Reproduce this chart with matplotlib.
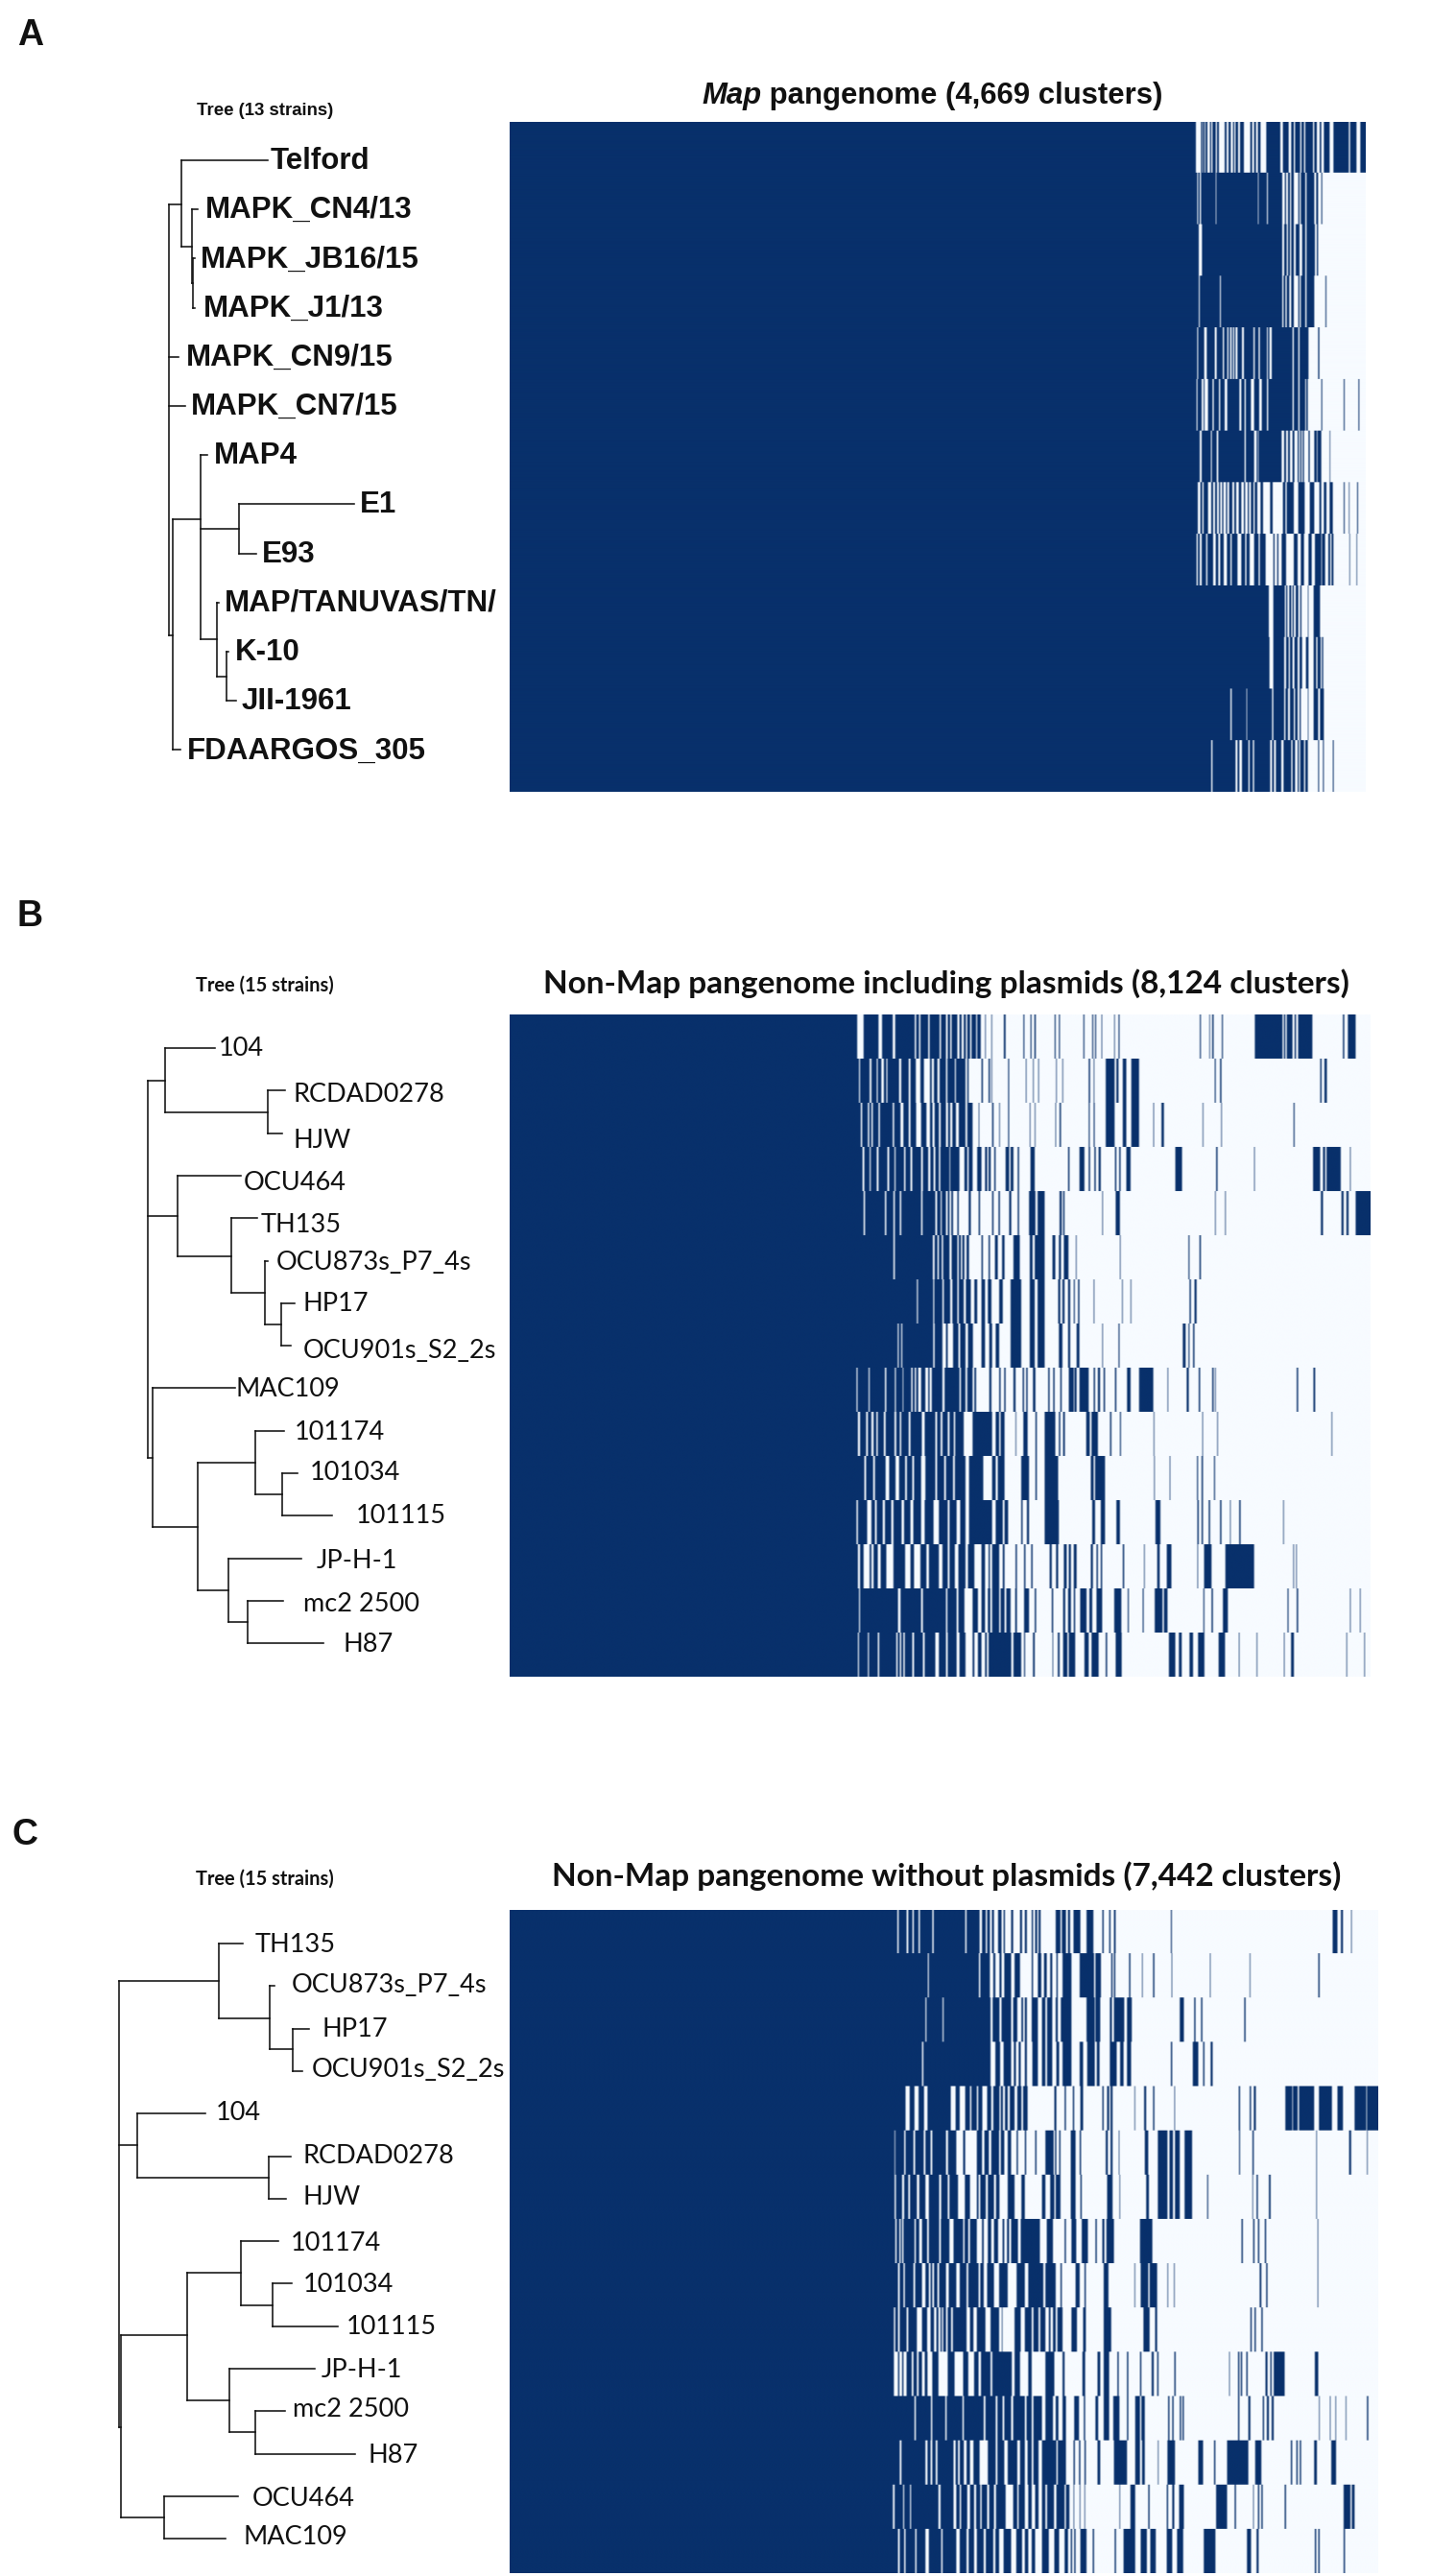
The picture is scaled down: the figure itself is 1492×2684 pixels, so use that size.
import matplotlib
matplotlib.use("Agg")
import matplotlib.pyplot as plt
from matplotlib.colors import LinearSegmentedColormap
import numpy as np

# presence/absence bins: every row starts present after the core block, each
# value flips the state (first value = start of an absent run)
A_CLUSTERS = 4669
A_BINS = 2676
A_CORE = 2007
A_ROWS = [
    [138,154,158,160,165,168,174,182,186,190,200,204,210,228,234,240,247,254,258,262,270,276,288,308,314,320,326,332,340,358,402,410,428,436,444,448,464,468,476,480,504,508,516,525,530,538,556,568,616,620,640,652],
    [142,145,150,154,200,202,332,334,360,363,408,416,420,426,432,436,444,458,462,466,480,484,508,514,520,530,533],
    [147,157,408,414,422,426,432,436,444,450,462,470,480,484,510,516,520],
    [147,150,213,216,408,412,418,422,430,436,444,458,462,466,480,484,508,543,546],
    [142,145,164,172,197,203,222,226,236,240,245,250,254,258,262,268,282,288,318,322,334,338,360,363,368,375,440,444,458,462,490,520,524],
    [140,143,156,162,165,176,190,194,210,214,228,236,274,280,290,294,310,320,336,344,360,364,440,444,458,462,480,483,488,530,533,600,603,646,649],
    [150,156,185,188,203,208,290,294,320,328,332,334,406,414,420,426,432,440,446,456,460,464,468,472,476,490,494,508,516,518,530,556,558],
    [144,152,158,162,176,186,192,198,204,210,214,220,224,232,236,242,252,258,264,272,280,288,292,300,304,310,318,322,330,340,348,370,378,410,418,422,444,458,478,494,508,524,530,538,546,556,566,600,603,616,618,642,645],
    [140,144,150,156,170,174,192,200,208,214,225,235,246,250,268,280,292,296,306,320,334,338,356,380,384,392,396,406,420,444,456,466,476,490,500,510,530,532,542,552,558,562,568,618,620,640,642],
    [366,380,416,420,424,430,436,440,444,450,458,464,468,488,490,506,526],
    [368,380,414,420,428,432,440,446,456,462,470,482,490,506,514,518,528,532,536],
    [246,250,296,298,376,380,414,418,426,432,444,448,456,462,466,488,490,506,520,526,538],
    [186,190,262,268,274,282,302,306,316,320,370,376,382,388,405,412,436,440,448,456,460,464,476,480,488,520,523,535,538,566,569],
]

B_CLUSTERS = 8124
B_BINS = 2425
B_CORE = 889
B_ROWS = [
    [90,108,150,160,190,197,252,256,264,268,290,294,322,326,340,345,352,356,372,378,384,390,396,400,408,412,425,428,438,450,452,468,470,503,508,558,561,578,581,589,593,646,649,658,661,727,730,752,755,760,763,778,780,814,816,826,829,1055,1058,1082,1084,1090,1094,1117,1120,1210,1288,1292,1296,1300,1316,1322,1326,1332,1372,1458,1462,1472,1494],
    [95,98,125,130,145,148,158,165,172,175,208,214,235,240,255,268,278,295,300,306,316,322,340,344,365,368,395,400,404,440,444,460,464,468,470,515,518,565,567,585,587,600,602,650,652,668,670,742,746,756,758,790,815,820,826,838,848,862,884,1097,1100,1112,1116,1394,1398,1406,1413],
    [100,104,120,124,130,134,150,154,190,194,212,220,235,240,256,270,285,295,302,308,320,325,340,346,352,358,368,376,395,400,415,432,434,470,474,490,492,515,518,576,578,590,592,648,650,660,664,742,745,756,759,790,815,838,848,862,884,924,926,947,954,1063,1065,1115,1117,1319,1322],
    [105,110,125,128,145,150,175,180,195,198,222,226,240,245,270,275,290,296,305,310,320,324,350,352,378,392,400,404,415,428,440,450,456,460,466,476,480,508,518,522,530,542,546,578,590,684,688,716,730,742,746,758,762,770,776,816,820,828,832,848,860,986,1005,1101,1105,1208,1210,1374,1394,1402,1408,1412,1452,1478,1480],
    [108,112,168,172,192,196,210,214,270,274,310,315,325,328,340,345,350,355,360,372,376,404,410,432,436,470,474,488,492,518,524,542,546,574,592,598,618,660,666,670,674,780,782,818,830,1098,1100,1126,1128,1396,1402,1454,1460,1468,1474,1494],
    [192,196,303,308,316,320,328,332,350,356,372,376,382,386,392,398,405,440,444,460,464,478,486,498,505,530,548,576,584,590,618,640,648,658,664,672,685,706,708,830,832,1023,1026,1054,1058],
    [258,261,304,307,330,334,352,358,372,376,390,396,410,420,428,440,450,458,468,490,500,522,552,576,590,598,618,656,662,668,674,684,690,700,703,712,716,756,758,836,838,860,862,1026,1030,1040,1046],
    [204,207,214,217,304,308,330,340,345,360,375,380,395,402,416,440,450,462,470,480,490,522,552,576,590,598,618,658,668,684,690,708,716,780,782,826,829,1007,1015,1023,1026,1036,1040],
    [88,91,122,125,168,172,196,199,218,220,242,246,252,256,262,270,282,290,294,300,330,336,378,382,395,400,415,420,425,462,468,490,494,504,508,530,536,556,560,566,570,585,592,628,632,642,646,662,666,686,700,702,708,716,742,756,760,768,774,784,788,816,820,850,860,884,924,964,966,1018,1024,1052,1056,1090,1094,1098,1100,1328,1332,1375,1380],
    [92,98,115,120,130,136,144,148,165,170,195,200,210,214,235,240,272,280,310,315,325,330,345,350,362,366,390,415,470,480,490,494,505,536,538,558,570,592,596,618,648,658,662,670,675,735,745,750,768,802,806,830,833,925,927,1062,1064,1104,1106,1426,1428],
    [110,115,135,140,170,180,198,208,225,230,245,250,270,282,310,315,335,340,360,365,395,405,445,470,480,486,505,552,574,592,596,618,656,748,756,760,788,926,928,970,972,1047,1050,1060,1064,1095,1098],
    [88,92,118,130,140,145,162,168,186,192,215,222,240,248,270,280,305,320,345,350,370,380,395,405,470,480,500,505,515,552,556,568,574,618,658,752,760,776,788,820,830,930,944,1048,1052,1060,1064,1080,1084,1112,1116,1140,1142,1166,1170,1290,1292],
    [92,98,108,125,130,136,148,156,172,192,225,240,250,268,285,292,320,330,345,350,365,375,395,402,420,440,450,460,464,470,490,500,505,536,540,560,564,580,584,632,638,650,656,672,680,686,692,700,708,748,754,764,768,776,780,838,842,898,900,935,942,962,975,1048,1050,1067,1088,1127,1208,1318,1320,1326,1328],
    [95,98,205,212,270,275,340,344,370,375,392,415,430,440,450,458,465,470,490,494,505,510,522,535,540,560,574,590,594,638,642,670,676,684,692,700,704,718,736,744,752,764,780,814,834,852,855,894,897,928,950,954,964,1065,1068,1088,1092,1120,1134,1302,1305,1328,1332,1478,1480,1506,1508],
    [92,95,120,123,148,152,200,204,210,214,220,224,245,250,275,280,310,320,340,345,370,378,395,415,420,430,440,450,455,460,524,530,552,560,563,585,590,640,642,655,660,670,682,686,704,730,742,750,770,790,794,818,835,968,986,996,1004,1026,1036,1050,1068,1108,1126,1165,1167,1215,1217,1292,1294,1312,1320,1468,1470,1518,1520],
]

C_CLUSTERS = 7442
C_BINS = 2534
C_CORE = 1033
C_ROWS = [
    [98,102,125,130,142,146,160,164,200,204,296,300,338,345,356,360,368,374,380,392,402,408,412,430,436,456,462,470,476,490,494,500,506,510,516,560,574,578,590,596,602,612,632,650,670,696,700,716,720,730,735,896,899,1368,1382,1392,1398,1422,1424],
    [187,190,336,340,368,378,384,396,402,410,430,440,456,490,494,508,518,526,534,544,550,562,566,580,606,630,672,676,692,722,726,730,734,774,778,812,814,844,848,898,900,1010,1012,1126,1128,1326,1330],
    [180,183,230,233,370,376,396,402,430,436,448,460,465,470,476,490,508,520,530,535,550,560,566,575,606,650,674,676,690,718,724,730,760,768,782,922,934,964,968,984,988,1110,1114],
    [170,174,370,384,398,408,430,438,444,452,458,470,476,492,508,520,530,535,550,562,570,580,606,630,640,652,674,680,688,718,738,748,758,768,780,896,900,960,976,990,994,1012,1018],
    [122,134,148,160,176,186,254,268,280,296,310,314,330,334,346,360,372,378,396,400,406,412,420,426,440,448,460,465,478,556,562,586,590,610,614,632,640,696,700,710,716,720,726,790,792,818,824,844,848,906,908,1094,1098,1126,1130,1138,1144,1230,1250,1252,1266,1270,1314,1328,1366,1382,1398,1432,1466,1468],
    [90,92,118,122,145,150,175,180,195,200,240,246,270,290,296,330,345,352,365,372,395,400,410,420,430,446,450,470,474,500,504,530,554,558,562,570,574,604,618,630,634,706,712,720,726,744,746,820,830,858,886,892,902,908,922,936,958,1095,1098,1134,1138,1320,1322,1416,1422,1468,1470],
    [90,94,112,118,130,135,155,162,180,190,220,226,245,250,275,295,310,330,335,340,356,362,380,386,396,420,440,460,470,520,530,544,556,560,574,604,618,632,636,710,726,746,748,824,832,858,886,892,902,908,922,936,958,1002,1005,1134,1136,1146,1150,1182,1187,1320,1322],
    [92,96,104,108,112,116,148,152,162,170,185,190,220,225,250,262,290,294,305,310,330,345,350,362,372,380,392,405,410,418,424,430,450,458,514,534,552,586,590,606,620,636,654,676,680,696,702,708,730,806,842,1102,1106,1136,1140,1150,1154,1170,1174,1324,1326],
    [100,105,116,120,145,150,170,180,190,195,200,205,215,220,240,248,270,280,300,305,335,340,350,360,380,395,420,446,470,480,524,530,560,574,578,618,630,644,648,700,714,790,792,808,830,834,856,886,888,905,907,1155,1160,1174,1178,1324,1326],
    [88,92,100,105,125,130,155,170,185,195,205,212,218,224,228,232,240,245,255,260,300,310,320,330,355,370,395,403,405,440,458,470,490,495,510,515,530,540,545,552,560,565,580,606,622,640,648,700,722,816,834,850,856,1128,1132,1140,1144,1160,1164],
    [88,100,104,112,116,125,140,145,155,160,170,178,186,200,218,245,265,290,305,322,335,342,370,375,432,440,456,480,490,530,556,580,586,638,646,682,690,700,716,740,744,768,772,806,810,840,846,856,860,906,910,1066,1068,1092,1096,1100,1104,1116,1120,1172,1178,1186,1190,1196,1228,1316,1326],
    [148,152,196,200,238,242,288,292,350,355,385,390,405,410,430,436,470,475,490,495,520,530,552,560,568,580,590,614,628,642,646,676,684,700,716,728,746,768,772,792,806,810,820,888,892,900,904,922,926,930,934,1092,1096,1122,1128,1164,1168,1176,1182,1190,1196,1328,1330,1360,1362,1376,1378,1406,1408,1468,1472],
    [105,110,180,186,195,200,210,215,262,268,275,280,292,300,310,320,338,362,385,390,410,420,448,456,470,478,490,495,510,520,562,566,590,612,616,628,632,644,648,682,690,730,768,792,806,812,820,858,860,886,908,976,990,1022,1026,1060,1122,1142,1160,1246,1250,1262,1266,1272,1276,1314,1322,1364,1378],
    [85,90,115,118,135,138,218,224,262,270,280,284,302,310,322,328,340,344,360,366,380,386,414,436,448,452,470,480,490,500,510,520,530,535,555,562,586,590,600,612,614,630,632,644,646,746,748,778,792,830,834,884,888,900,906,920,934,1028,1060,1082,1086,1136,1138,1150,1154,1160,1164,1228,1232,1400,1420,1424,1432],
    [100,105,118,122,150,154,180,190,226,230,270,280,300,306,322,330,350,356,378,384,395,408,430,445,462,470,480,490,500,520,540,556,570,586,596,604,608,614,618,632,650,668,672,732,736,758,792,808,826,836,852,884,900,914,932,992,1026,1118,1130,1146,1152,1316,1320,1326,1330,1400,1404],
]

A_NAMES = ["Telford", "MAPK_CN4/13", "MAPK_JB16/15", "MAPK_J1/13", "MAPK_CN9/15", "MAPK_CN7/15", "MAP4", "E1", "E93", "MAP/TANUVAS/TN/", "K-10", "JII-1961", "FDAARGOS_305"]
B_NAMES = ["104", "RCDAD0278", "HJW", "OCU464", "TH135", "OCU873s_P7_4s", "HP17", "OCU901s_S2_2s", "MAC109", "101174", "101034", "101115", "JP-H-1", "mc2 2500", "H87"]
C_NAMES = ["TH135", "OCU873s_P7_4s", "HP17", "OCU901s_S2_2s", "104", "RCDAD0278", "HJW", "101174", "101034", "101115", "JP-H-1", "mc2 2500", "H87", "OCU464", "MAC109"]

# trees: leaf = (tip depth, row), node = (depth, row, children)
A_TREE = (176, 4.8, [
    (189, 0.89, [(279, 0), (200, 1.76, [(206, 1), (201, 2.5, [(203, 2), (203, 3)])])]),
    (186, 4), (193, 5),
    (180, 9.66, [
        (209, 7.31, [
            (216, 6),
            (249, 7.5, [(369, 7), (267, 8)]),
            (226, 9.75, [(228, 9), (236, 10.5, [(238, 10), (246, 11)])]),
        ]),
        (188, 12),
    ]),
])
B_TREE = (154, 5, [
    (172, 0.76, [(224, 0), (279, 1.51, [(297, 1), (294, 2)])]),
    (185, 3.94, [
        (251, 3),
        (241, 4.89, [(268, 4), (276, 5.75, [(279, 5), (293, 6.5, [(307, 6), (303, 7)])])]),
    ]),
    (159, 9.63, [
        (245, 8),
        (206, 11.26, [
            (266, 9.76, [(296, 9), (294, 10.5, [(310, 10), (346, 11)])]),
            (238, 12.75, [(314, 12), (258, 13.5, [(295, 13), (337, 14)])]),
        ]),
    ]),
])
C_TREE = (123.5, 6, [
    (228, 0.87, [(253, 0), (281, 1.75, [(286, 1), (304.5, 2.48, [(322, 2), (315, 3)])])]),
    (143, 4.73, [(214, 4), (280, 5.5, [(303, 5), (298, 6)])]),
    (126, 11.37, [
        (195, 9.22, [
            (251, 7.75, [(290, 7), (284, 8.5, [(304, 8), (352, 9)])]),
            (239, 10.74, [(328, 10), (266, 11.5, [(297, 11), (370, 12)])]),
        ]),
        (171, 13.5, [(248, 13), (235, 14)]),
    ]),
])

A_LABEL_X = [282, 214, 209, 212, 194, 199, 223, 375, 273, 234, 245, 252, 195]
B_LABEL_X = [228, 305, 305, 254, 272, 288, 316, 316, 246, 307, 323, 371, 330, 316, 358]
C_LABEL_X = [266, 304, 336, 325, 225, 316, 316, 303, 316, 361, 335, 305, 383, 263, 254]
A_LABEL_ROW = list(range(13))
B_LABEL_ROW = [-0.04, 1.05, 2.14, 3.12, 4.12, 5.0, 5.98, 7.07, 7.99, 9.0, 9.94, 10.97, 12.03, 13.04, 13.98]
C_LABEL_ROW = [0, 0.97, 1.99, 2.94, 3.96, 4.98, 5.95, 7.03, 8.01, 9.0, 10.01, 10.94, 12.03, 13.04, 13.94]

W, H = 1492, 2684
BLACK = "#111111"
ROW_REPEAT = 60
SMOOTH = 5
PANGENOME = LinearSegmentedColormap.from_list("pangenome", ["#f7fbff", "#08306b"])


def build_matrix(rows, core, n_bins):
    m = np.ones((len(rows), n_bins))
    kernel = np.ones(SMOOTH) / SMOOTH
    for i, row in enumerate(rows):
        edges = list(row) + [n_bins - core]
        for a, b in zip(edges[0::2], edges[1::2]):
            m[i, core + a:core + b] = 0
        # the source figure is a soft jpeg, thin stripes come out as mid tones
        padded = np.pad(m[i], SMOOTH, mode="edge")
        m[i] = np.convolve(padded, kernel, mode="same")[SMOOTH:-SMOOTH]
    # rows are repeated so only the horizontal direction gets smoothed
    return np.repeat(m, ROW_REPEAT, axis=0)


def draw_heatmap(rows, core, n_bins, n_clusters, left, top, right, bottom):
    ax = fig.add_axes([left / W, 1 - bottom / H, (right - left) / W, (bottom - top) / H])
    ax.imshow(build_matrix(rows, core, n_bins), cmap=PANGENOME, vmin=0, vmax=1, aspect="auto",
              interpolation="hanning", extent=(0, n_clusters, len(rows), 0))
    ax.axis("off")


def draw_tree(node, y0, step, parent_x=None):
    x = node[0]
    y = y0 + node[1] * step
    if parent_x is not None:
        over.plot([parent_x, x], [y, y], color=BLACK, lw=1.15, solid_capstyle="projecting")
    if len(node) == 3:
        kids = node[2]
        ys = [y0 + k[1] * step for k in kids]
        over.plot([x, x], [min(ys), max(ys)], color=BLACK, lw=1.15, solid_capstyle="projecting")
        for k in kids:
            draw_tree(k, y0, step, x)


def draw_labels(names, label_x, label_row, y0, step, **kw):
    for i, name in enumerate(names):
        over.text(label_x[i], y0 + label_row[i] * step, name, ha="left", va="center", color=BLACK, **kw)


fig = plt.figure(figsize=(W / 100, H / 100), dpi=100, facecolor="white")

draw_heatmap(A_ROWS, A_CORE, A_BINS, A_CLUSTERS, 531, 127, 1423, 825)
draw_heatmap(B_ROWS, B_CORE, B_BINS, B_CLUSTERS, 531, 1057, 1428, 1747)
draw_heatmap(C_ROWS, C_CORE, C_BINS, C_CLUSTERS, 531, 1990, 1436, 2681)

over = fig.add_axes([0, 0, 1, 1], facecolor="none")
over.set_xlim(0, W)
over.set_ylim(H, 0)
over.axis("off")

ARIAL = "Liberation Sans"
CALIBRI = "Lato"

draw_tree(A_TREE, 167, 51.2)
draw_tree(B_TREE, 1092, 44.3)
draw_tree(C_TREE, 2025, 44.3)

draw_labels(A_NAMES, A_LABEL_X, A_LABEL_ROW, 168, 51.2, family=ARIAL, fontweight="bold", fontsize=22.5)
draw_labels(B_NAMES, B_LABEL_X, B_LABEL_ROW, 1094, 44.3, family=CALIBRI, fontsize=19.5)
draw_labels(C_NAMES, C_LABEL_X, C_LABEL_ROW, 2026, 44.3, family=CALIBRI, fontsize=19.5)

over.text(32, 37, "A", family=ARIAL, fontweight="bold", fontsize=27, ha="center", va="center", color=BLACK)
over.text(31, 955, "B", family=ARIAL, fontweight="bold", fontsize=27, ha="center", va="center", color=BLACK)
over.text(26, 1912, "C", family=ARIAL, fontweight="bold", fontsize=27, ha="center", va="center", color=BLACK)

over.text(276, 115, "Tree (13 strains)", family=ARIAL, fontweight="bold", fontsize=13.4, ha="center", va="center", color=BLACK)
over.text(276, 1027, "Tree (15 strains)", family=CALIBRI, fontweight="bold", fontsize=14.4, ha="center", va="center", color=BLACK)
over.text(276, 1958, "Tree (15 strains)", family=CALIBRI, fontweight="bold", fontsize=14.4, ha="center", va="center", color=BLACK)

t = over.text(731, 100, "Map", family=ARIAL, fontweight="bold", fontstyle="italic", fontsize=22.4, ha="left", va="center", color=BLACK)
over.annotate(" pangenome (4,669 clusters)", xy=(1, 0.5), xycoords=t, family=ARIAL, fontweight="bold",
              fontsize=22.4, ha="left", va="center", color=BLACK)
over.text(986, 1025, "Non-Map pangenome including plasmids (8,124 clusters)", family=CALIBRI, fontweight="bold",
          fontsize=24, ha="center", va="center", color=BLACK)
over.text(986, 1955, "Non-Map pangenome without plasmids (7,442 clusters)", family=CALIBRI, fontweight="bold",
          fontsize=24, ha="center", va="center", color=BLACK)

fig.savefig("out.png", dpi=100, facecolor="white")
